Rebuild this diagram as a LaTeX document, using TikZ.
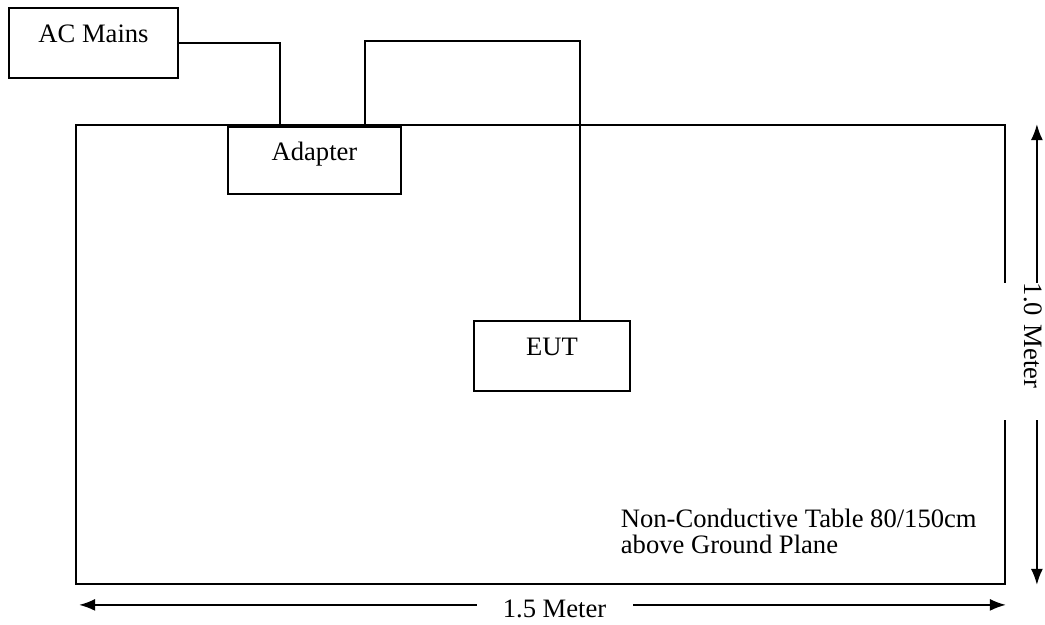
\documentclass[tikz,border=0pt]{standalone}
\usepackage{fontspec}
\setmainfont{Liberation Serif}
\usetikzlibrary{arrows.meta,positioning}

\begin{document}
\begin{tikzpicture}[x=0.5pt,y=-0.5pt,line width=0.9pt,
  font=\fontsize{13.3}{13}\selectfont,
  box/.style={draw,inner sep=0pt,text height=17.5pt,text depth=17.5pt},
  dim/.style={{Latex[length=8pt,width=6pt]}-{Latex[length=8pt,width=6pt]}}]

  \useasboundingbox (0,0) rectangle (1045,625);

  % table and units
  \node[draw,inner sep=0pt,minimum width=464.5pt,minimum height=229.5pt] (T) at (540.5,354.5) {};
  \node[box,minimum width=84.5pt]	(AC) at (93.5,43)    {AC Mains};
  \node[box,minimum width=86.5pt,text height=16.75pt,text depth=16.75pt] (Ad) at (314.5,160.5) {Adapter};
  \node[box,minimum width=78pt]	(E)  at (552,356)    {EUT};
  \node[anchor=north west,inner sep=0pt,align=left] (N) at (620,508.5)
        {Non-Conductive Table 80/150cm\\above Ground Plane};

  % cables
  \coordinate (a1) at ([xshift=-17.25pt]Ad.north);
  \coordinate (a2) at ([xshift=25.25pt]Ad.north);
  \coordinate (e1) at ([xshift=14pt]E.north);
  \draw (AC.east) -| (a1);
  \draw (a2) -- ++(0,-85) -| (e1);

  % dimensions
  \coordinate (v1) at ([xshift=15.5pt]T.north east);
  \coordinate (v2) at ([xshift=15.5pt]T.south east);
  \coordinate (h1) at ([shift={(2pt,-10pt)}]T.south west);
  \coordinate (h2) at ([yshift=-10pt]T.south east);
  \draw[dim] (v1) -- node[pos=0.493,fill=white,rotate=-90,inner sep=0pt,text width=68.5pt,
        text height=12pt,text depth=0pt,minimum height=35pt,align=left] {1.0 Meter} (v2);
  \draw[dim] (h1) -- node[pos=0.513,fill=white,minimum width=78pt,inner ysep=1pt,yshift=-2pt]
        {1.5 Meter} (h2);
\end{tikzpicture}
\end{document}
